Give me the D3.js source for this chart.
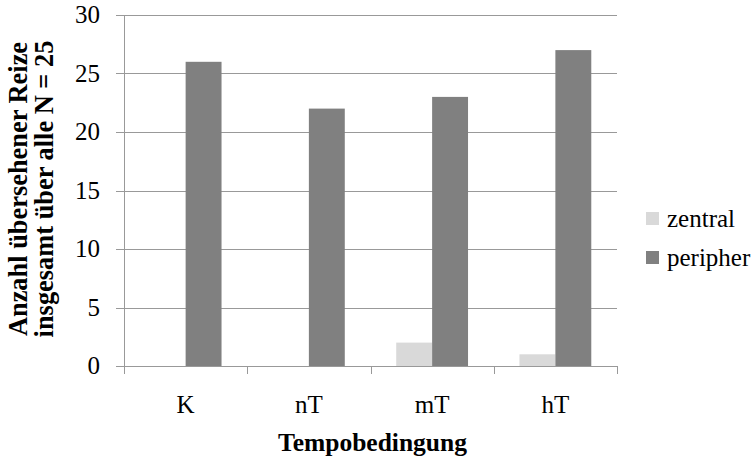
<!DOCTYPE html>
<html>
<head>
<meta charset="utf-8">
<script src="https://cdn.jsdelivr.net/npm/d3@7"></script>
<style>
  html, body { margin: 0; padding: 0; background: #fff; }
  svg { display: block; }
</style>
</head>
<body>
<svg id="chart" width="755" height="464"></svg>
<script>
// Tempo conditions and missed-stimulus counts
const categories = ["K", "nT", "mT", "hT"];
const seriesNames = ["zentral", "peripher"];
const zentral = [0, 0, 2, 1];
const peripher = [26, 22, 23, 27];
const yTicks = [0, 5, 10, 15, 20, 25, 30];
const colors = { zentral: "#d9d9d9", peripher: "#808080" };

const FONT = "Liberation Serif";
const svg = d3.select("#chart");
const plot = { left: 124, right: 617, top: 15, bottom: 366 };

const x = d3.scaleBand().domain(categories).range([plot.left, plot.right]).paddingInner(0).paddingOuter(0);
const inner = d3.scaleBand().domain(seriesNames).range([0, x.bandwidth()]).paddingInner(0).paddingOuter(0.716);
const y = d3.scaleLinear().domain([0, 30]).range([plot.bottom, plot.top]);

const gridColor = "#999999";

// horizontal gridlines with small tick stubs to the left of the axis
svg.append("g")
  .selectAll("line")
  .data(yTicks)
  .join("line")
  .attr("x1", plot.left - 8)
  .attr("x2", plot.right)
  .attr("y1", d => Math.round(y(d)) + 0.5)
  .attr("y2", d => Math.round(y(d)) + 0.5)
  .attr("stroke", gridColor)
  .attr("stroke-width", 1);

// y tick labels
svg.append("g")
  .selectAll("text")
  .data(yTicks)
  .join("text")
  .attr("x", 100)
  .attr("y", d => y(d))
  .attr("dy", "0.33em")
  .attr("text-anchor", "end")
  .attr("font-family", FONT)
  .attr("font-size", 25)
  .attr("fill", "#000")
  .text(d => d);

// bars
const rows = categories.map((c, i) => ({ cat: c, zentral: zentral[i], peripher: peripher[i] }));
const groups = svg.append("g")
  .selectAll("g")
  .data(rows)
  .join("g")
  .attr("transform", d => `translate(${x(d.cat)},0)`);

groups.selectAll("rect")
  .data(d => seriesNames.map(s => ({ key: s, value: d[s] })))
  .join("rect")
  .attr("x", d => inner(d.key))
  .attr("width", inner.bandwidth())
  .attr("y", d => y(d.value))
  .attr("height", d => y(0) - y(d.value))
  .attr("fill", d => colors[d.key]);

// y axis line
svg.append("line")
  .attr("x1", plot.left + 0.5).attr("x2", plot.left + 0.5)
  .attr("y1", plot.top).attr("y2", plot.bottom + 8)
  .attr("stroke", gridColor);

// x axis line and category separators
svg.append("line")
  .attr("x1", plot.left - 8).attr("x2", plot.right)
  .attr("y1", Math.round(y(0)) + 0.5).attr("y2", Math.round(y(0)) + 0.5)
  .attr("stroke", gridColor);

const boundaries = categories.map(c => x(c) + x.bandwidth());
svg.append("g")
  .selectAll("line")
  .data(boundaries)
  .join("line")
  .attr("x1", d => Math.round(d) + 0.5)
  .attr("x2", d => Math.round(d) + 0.5)
  .attr("y1", plot.bottom)
  .attr("y2", plot.bottom + 8)
  .attr("stroke", gridColor);

// category labels
svg.append("g")
  .selectAll("text")
  .data(categories)
  .join("text")
  .attr("x", d => x(d) + x.bandwidth() / 2)
  .attr("y", 413)
  .attr("text-anchor", "middle")
  .attr("font-family", FONT)
  .attr("font-size", 25)
  .attr("fill", "#000")
  .text(d => d);

// x axis title
svg.append("text")
  .attr("x", (plot.left + plot.right) / 2 + 2)
  .attr("y", 451)
  .attr("text-anchor", "middle")
  .attr("font-family", FONT)
  .attr("font-size", 25.5)
  .attr("font-weight", "bold")
  .attr("fill", "#000")
  .text("Tempobedingung");

// y axis title (two lines)
const yTitle = svg.append("text")
  .attr("transform", "translate(27,189) rotate(-90)")
  .attr("text-anchor", "middle")
  .attr("font-family", FONT)
  .attr("font-size", 26.4)
  .attr("font-weight", "bold")
  .attr("fill", "#000");
yTitle.append("tspan").attr("x", 0).attr("y", 0).text("Anzahl übersehener Reize");
yTitle.append("tspan").attr("x", 0).attr("y", 26).text("insgesamt über alle N = 25");

// legend
const legend = svg.append("g")
  .selectAll("g")
  .data(seriesNames)
  .join("g")
  .attr("transform", (d, i) => `translate(646,${212 + i * 39})`);
legend.append("rect")
  .attr("width", 13).attr("height", 13)
  .attr("fill", d => colors[d]);
legend.append("text")
  .attr("x", 21)
  .attr("y", 15)
  .attr("font-family", FONT)
  .attr("font-size", 25)
  .attr("fill", "#000")
  .text(d => d);
</script>
</body>
</html>
